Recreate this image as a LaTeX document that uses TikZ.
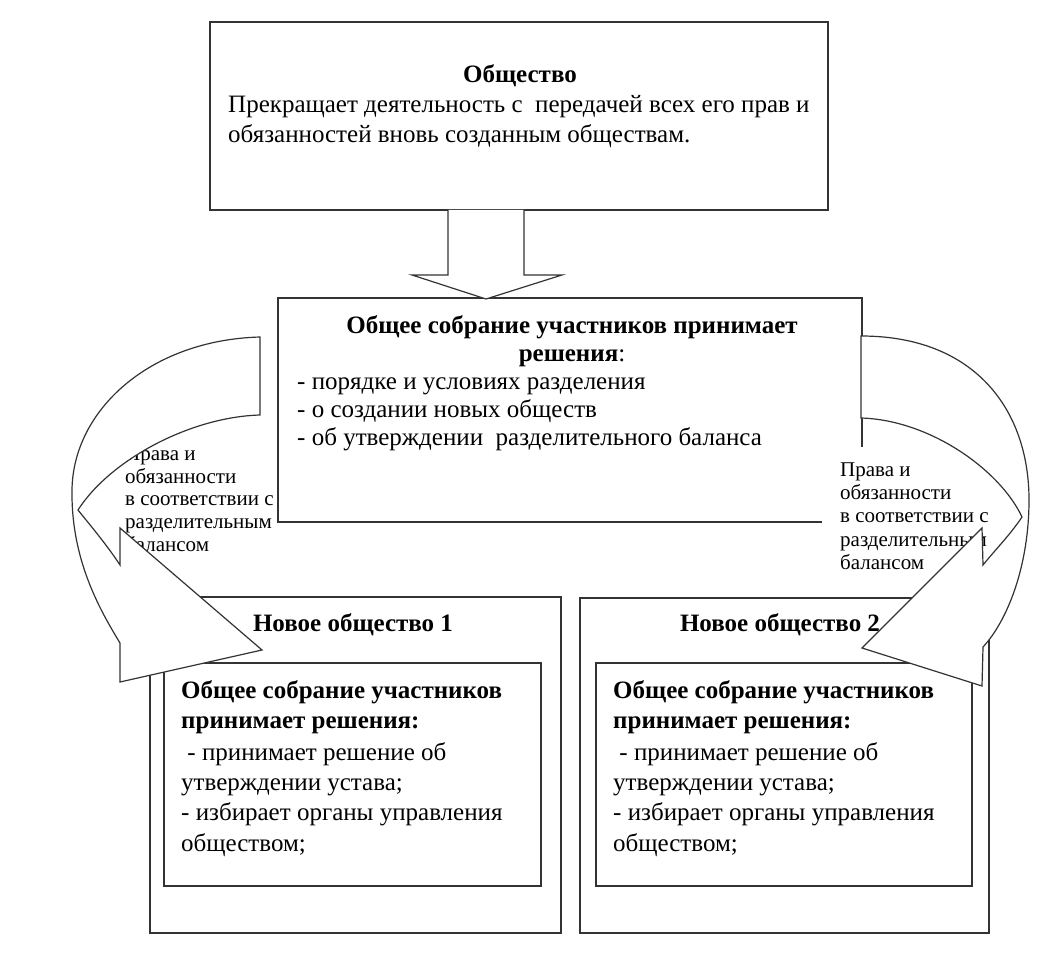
\documentclass[tikz,border=0pt]{standalone}
\usepackage{fontspec}
\setmainfont{Liberation Serif}
\tikzset{
  box/.style={draw=black!80, line width=1.2pt, rectangle, inner sep=0pt, fill=white},
  arr/.style={draw=black!80, line width=1.2pt, fill=white, line join=miter},
  txt/.style={font=\fontsize{25}{29}\selectfont, inner sep=0pt, anchor=base west},
  ctxt/.style={font=\fontsize{25}{29}\selectfont, inner sep=0pt, anchor=base},
  lbl/.style={font=\fontsize{21}{24}\selectfont, inner sep=0pt, anchor=base west},
}
\begin{document}
\begin{tikzpicture}[x=1pt,y=-1pt]
\useasboundingbox (0,0) rectangle (1043,957);
\fill[white] (0,0) rectangle (1043,957);

% boxes
\node[box, minimum width=618pt, minimum height=188pt] (soc) at (519,116) {};
\node[box, minimum width=584pt, minimum height=224pt] (meet) at (570,410) {};
\node[box, minimum width=411pt, minimum height=336pt] (new1) at (355.5,765) {};
\node[box, minimum width=377pt, minimum height=223pt] (in1) at (352.5,774.5) {};
\node[box, minimum width=409pt, minimum height=335pt] (new2) at (784.5,765.5) {};
\node[box, minimum width=376pt, minimum height=223pt] (in2) at (784,774.5) {};

% top box text
\node[ctxt] (t0) at (520,83) {\textbf{Общество}};
\node[txt] (t1) at (228,113) {Прекращает деятельность с\ \ передачей всех его прав и};
\node[txt] (t2) at (228,143) {обязанностей вновь созданным обществам.};

% middle box text
\node[ctxt] (m0) at (572,333) {\textbf{Общее собрание участников принимает}};
\node[ctxt] (m1) at (572,361) {\textbf{решения}:};
\node[txt] (m2) at (297,389) {- порядке и условиях разделения};
\node[txt] (m3) at (297,417) {- о создании новых обществ};
\node[txt] (m4) at (297,445) {- об утверждении\ \ разделительного баланса};

% new society 1
\node[ctxt] (h1) at (353,631) {\textbf{Новое общество 1}};
\node[txt] (a0) at (181,698) {\textbf{Общее собрание участников}};
\node[txt] (a1) at (181,728) {\textbf{принимает решения:}};
\node[txt] (a2) at (181,760) {\hspace{0.25em}- принимает решение об};
\node[txt] (a3) at (181,790) {утверждении устава;};
\node[txt] (a4) at (181,820) {- избирает органы управления};
\node[txt] (a5) at (181,851) {обществом;};

% new society 2
\node[ctxt] (h2) at (780,631) {\textbf{Новое общество 2}};
\node[txt] (b0) at (613,698) {\textbf{Общее собрание участников}};
\node[txt] (b1) at (613,728) {\textbf{принимает решения:}};
\node[txt] (b2) at (613,760) {\hspace{0.25em}- принимает решение об};
\node[txt] (b3) at (613,790) {утверждении устава;};
\node[txt] (b4) at (613,820) {- избирает органы управления};
\node[txt] (b5) at (613,851) {обществом;};

% side labels
\node[lbl] (l0) at (125,460) {Права и};
\node[lbl] (l1) at (125,483) {обязанности};
\node[lbl] (l2) at (125,505) {в соответствии с};
\node[lbl] (l3) at (125,528) {разделительным};
\node[lbl] (l4) at (125,551) {балансом};

\fill[white] (822,447) rectangle (995,585);
\node[lbl] (r0) at (840,476) {Права и};
\node[lbl] (r1) at (840,499) {обязанности};
\node[lbl] (r2) at (840,522.5) {в соответствии с};
\node[lbl] (r3) at (840,546) {разделительным};
\node[lbl] (r4) at (840,569.5) {балансом};

% block arrow from top box to middle box
\filldraw[arr] (448,210) -- (448,275) -- (412,275) -- (486,299) -- (562,275) -- (524,275) -- (524,210);

% left curved arrow
\filldraw[arr] (260,337) .. controls (150,340) and (73,410) .. (72,490)
  .. controls (71,560) and (100,610) .. (120,643) -- (120,682) -- (262,650)
  -- (120,528) -- (120,565) .. controls (107,545) and (90,525) .. (78,510)
  .. controls (110,460) and (190,417) .. (260,415) -- cycle;

% right curved arrow
\filldraw[arr] (861,336) .. controls (975,336) and (1029,410) .. (1029,500)
  .. controls (1029,565) and (1008,620) .. (983,647) -- (982,686) -- (862,648)
  -- (982,528) -- (983,565) .. controls (995,550) and (1010,535) .. (1022,517)
  .. controls (1000,470) and (930,420) .. (861,418) -- cycle;
\end{tikzpicture}
\end{document}
